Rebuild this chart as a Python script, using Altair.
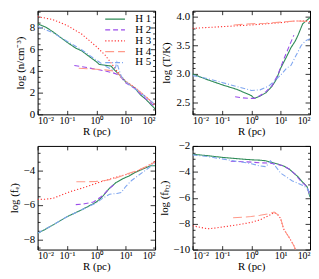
import json
import altair as alt
import pandas as pd

SERIES = ["H 1", "H 2", "H 3", "H 4", "H 5"]
COLORS = ["#2e8b57", "#9b4dea", "#ff3030", "#ff9a8a", "#7fa6f0"]
DASHES = [[1, 0], [5, 3], [1.2, 2], [9, 4], [5, 2, 1, 2]]

X_TICKS = [-2, -1, 0, 1, 2]
X_LABELS = ["10⁻²", "10⁻¹", "10⁰", "10¹", "10²"]

# ---- Panel 1: log density ----
N_R = {
    "H 1": [-2, -1.7, -1.5, -1.2, -1, -0.7, -0.5, -0.3, 0, 0.1, 0.5, 0.65, 0.8, 1, 1.3, 1.5, 1.7, 2],
    "H 2": [-0.75, -0.5, 0, 0.3, 0.6, 0.7, 0.85, 1, 1.3, 1.5, 1.7, 2],
    "H 3": [-2, -1.5, -1, -0.5, 0, 0.3, 0.5, 0.7, 0.85, 1, 1.3, 1.5, 1.7, 2],
    "H 4": [-0.6, -0.3, 0, 0.3, 0.6, 0.75, 0.9, 1, 1.3, 1.5, 1.7, 2],
    "H 5": [-2, -1.5, -1, -0.5, 0, 0.3, 0.55, 0.65, 0.7, 0.75, 0.85, 1, 1.5, 2],
}
N_V = {
    "H 1": [8.35, 8.0, 7.65, 7.05, 6.65, 6.1, 5.85, 5.45, 4.85, 4.6, 4.45, 4.0, 3.6, 3.0, 2.45, 1.8, 1.35, 0.5],
    "H 2": [4.5, 4.4, 4.15, 4.0, 3.8, 3.7, 3.4, 2.9, 2.4, 1.9, 1.4, 0.7],
    "H 3": [9.0, 8.75, 8.2, 7.4, 6.25, 5.45, 4.75, 4.0, 3.5, 3.05, 2.5, 2.05, 1.6, 0.85],
    "H 4": [4.25, 4.2, 4.15, 4.1, 4.0, 3.75, 3.3, 3.0, 2.5, 2.05, 1.6, 0.8],
    "H 5": [8.1, 7.55, 6.75, 5.95, 5.0, 4.45, 4.1, 4.3, 4.8, 4.3, 3.5, 3.0, 2.0, 0.9],
}

# ---- Panel 2: log temperature ----
T_R = {
    "H 1": [-2, -1.5, -1, -0.5, 0, 0.1, 0.3, 0.5, 0.7, 0.85, 1, 1.2, 1.35, 1.5, 1.6, 1.75, 2],
    "H 2": [-0.55, -0.3, 0, 0.1, 0.3, 0.5, 0.7, 0.9, 1.1, 1.3, 1.45],
    "H 3": [-2, -1, 0, 0.5, 1, 1.5, 1.8, 2],
    "H 4": [-0.6, 0, 0.5, 1, 1.5, 2],
    "H 5": [-2, -1.5, -1, -0.5, 0, 0.3, 0.6, 0.8, 1, 1.2, 1.35, 1.5, 1.7, 1.85, 2],
}
T_V = {
    "H 1": [3.0, 2.9, 2.81, 2.73, 2.62, 2.57, 2.61, 2.67, 2.78, 2.9, 3.1, 3.3, 3.46, 3.58, 3.69, 3.88, 3.99],
    "H 2": [2.6, 2.58, 2.57, 2.57, 2.62, 2.69, 2.79, 2.98, 3.25, 3.5, 3.68],
    "H 3": [3.8, 3.83, 3.86, 3.88, 3.9, 3.93, 3.93, 3.92],
    "H 4": [3.86, 3.88, 3.89, 3.91, 3.93, 3.92],
    "H 5": [2.97, 2.92, 2.85, 2.78, 2.71, 2.72, 2.79, 2.88, 2.98, 3.1, 3.15, 3.3, 3.5, 3.58, 3.62],
}

# ---- Panel 3: log electron fraction ----
E_R = {
    "H 1": [-2, -1.5, -1, -0.5, 0, 0.2, 0.45, 0.67, 0.9, 1.1, 1.3, 1.5, 1.7, 1.85, 2],
    "H 2": [-0.7, -0.4, -0.1, 0.2, 0.45, 0.67],
    "H 3": [-2, -1.7, -1.47, -1.2, -0.9, -0.5, -0.2, 0.2, 0.5, 0.8, 1.1, 1.4, 1.7, 2],
    "H 4": [-0.68, -0.3, 0, 0.3, 0.6, 1, 1.5, 2],
    "H 5": [-2, -1.5, -1, -0.5, 0, 0.2, 0.45, 0.7, 0.85, 1, 1.2, 1.4, 1.6, 1.8, 2],
}
E_V = {
    "H 1": [-7.67, -7.2, -6.7, -6.3, -5.85, -5.55, -5.05, -4.72, -4.5, -4.35, -4.15, -4.0, -3.85, -3.75, -3.75],
    "H 2": [-6.0, -5.95, -5.85, -5.5, -5.05, -4.75],
    "H 3": [-5.7, -5.68, -5.63, -5.45, -5.25, -5.05, -4.88, -4.65, -4.5, -4.35, -4.22, -4.05, -3.8, -3.5],
    "H 4": [-4.67, -4.67, -4.65, -4.6, -4.5, -4.25, -3.95, -3.55],
    "H 5": [-7.65, -7.2, -6.7, -6.3, -5.9, -5.65, -5.4, -5.35, -5.3, -4.95, -4.6, -4.35, -4.1, -3.85, -3.6],
}

# ---- Panel 4: log H2 fraction ----
H_R = {
    "H 1": [-2, -1.5, -1, -0.5, 0, 0.3, 0.5, 0.7, 0.9, 1.1, 1.3, 1.45, 1.6, 1.75, 1.9, 2],
    "H 2": [-0.7, -0.3, 0, 0.3, 0.6, 0.9, 1.1, 1.3, 1.5, 1.7, 1.9, 2],
    "H 3": [-2, -1.7, -1.5, -1.2, -0.9, -0.5, 0, 0.3, 0.56, 0.78, 0.9, 1, 1.1, 1.3, 1.46, 1.55],
    "H 4": [-0.62, -0.3, 0, 0.3, 0.56, 0.78, 0.9, 1, 1.1, 1.3, 1.46, 1.55],
    "H 5": [-2, -1.5, -1, -0.5, 0, 0.3, 0.5, 0.65, 0.8, 1, 1.2, 1.4, 1.6, 1.8, 1.95, 2],
}
H_V = {
    "H 1": [-2.64, -2.75, -2.88, -2.98, -3.07, -3.1, -3.15, -3.27, -3.4, -3.55, -3.8, -4.1, -4.4, -4.8, -5.15, -5.95],
    "H 2": [-3.18, -3.22, -3.25, -3.3, -3.32, -3.42, -3.55, -3.8, -4.2, -4.75, -5.15, -5.9],
    "H 3": [-8.16, -8.3, -8.4, -8.33, -8.23, -8.1, -7.9, -7.7, -7.42, -7.15, -7.3, -7.6, -8.4, -9.1, -9.75, -10.3],
    "H 4": [-7.55, -7.5, -7.45, -7.35, -7.25, -7.1, -7.3, -7.6, -8.4, -9.1, -9.75, -10.3],
    "H 5": [-2.69, -2.82, -3.0, -3.18, -3.37, -3.55, -3.6, -3.15, -3.5, -4.1, -4.4, -4.7, -4.9, -5.1, -5.4, -5.85],
}

# ---- axis tick lists ----
P1_MAJOR = [0, 2, 4, 6, 8]
P1_MINOR = [0.5, 1, 1.5, 2.5, 3, 3.5, 4.5, 5, 5.5, 6.5, 7, 7.5, 8.5, 9, 9.5]
P2_MAJOR = [2.5, 3, 3.5, 4]
P2_MINOR = [2.3, 2.4, 2.6, 2.7, 2.8, 2.9, 3.1, 3.2, 3.3, 3.4, 3.6, 3.7, 3.8, 3.9, 4.1]
P3_MAJOR = [-8, -6, -4]
P3_MINOR = [-8.5, -7.5, -7, -6.5, -5.5, -5, -4.5, -3.5, -3, -2.5]
P4_MAJOR = [-10, -8, -6, -4, -2]
P4_MINOR = [-9.5, -9, -8.5, -7.5, -7, -6.5, -5.5, -5, -4.5, -3.5, -3, -2.5]

W, H = 119, 105
FONT = "Liberation Serif"
FS = 11
LABEL_EXPR = json.dumps(X_LABELS) + "[datum.value + 2]"


def frame(rs, vs):
    rows = []
    for s in SERIES:
        for r, v in zip(rs[s], vs[s]):
            rows.append({"r": r, "v": v, "s": s})
    return pd.DataFrame(rows)


def tick_axis(**kw):
    return alt.Axis(labels=False, domain=False, grid=False, title=None,
                    tickColor="black", tickWidth=0.8, **kw)


def panel(df, ydom, major, minor, ytitle, extent, legend=False):
    xs = alt.Scale(domain=[-2, 2], nice=False, zero=False)
    ys = alt.Scale(domain=ydom, nice=False, zero=False)
    if legend:
        leg = alt.Legend(title=None, orient="top-right", offset=3, padding=0,
                         symbolType="M-4.5,0H0.5", symbolSize=64,
                         symbolStrokeWidth=1.2, labelOffset=7, rowPadding=-1.5,
                         labelFont=FONT, labelFontSize=FS, labelColor="black")
    else:
        leg = None
    lines = alt.Chart(df).mark_line(strokeWidth=1.1, clip=True).encode(
        x=alt.X("r:Q", scale=xs, axis=alt.Axis(
            values=X_TICKS, labelExpr=LABEL_EXPR, title="R (pc)", ticks=False,
            domain=False, grid=False, labelPadding=1, titlePadding=0,
            labelFontSize=10)),
        y=alt.Y("v:Q", scale=ys, axis=alt.Axis(
            values=major, title=ytitle, ticks=False, domain=False, grid=False,
            labelPadding=3, titlePadding=2, minExtent=extent, maxExtent=extent)),
        color=alt.Color("s:N", scale=alt.Scale(domain=SERIES, range=COLORS), legend=leg),
        strokeDash=alt.StrokeDash("s:N", scale=alt.Scale(domain=SERIES, range=DASHES), legend=leg),
    )

    def tl(xaxis, yaxis):
        return alt.Chart(df).mark_point(opacity=0, clip=True).encode(
            x=alt.X("r:Q", scale=xs, axis=xaxis),
            y=alt.Y("v:Q", scale=ys, axis=yaxis),
        )

    layers = [
        lines,
        tl(tick_axis(orient="top", offset=-H, values=X_TICKS, tickSize=4), None),
        tl(tick_axis(orient="bottom", offset=-H, values=X_TICKS, tickSize=4), None),
        tl(None, tick_axis(orient="right", offset=-W, values=major, tickSize=5)),
        tl(None, tick_axis(orient="left", offset=-W, values=major, tickSize=5)),
        tl(None, tick_axis(orient="right", offset=-W, values=minor, tickSize=2.5)),
        tl(None, tick_axis(orient="left", offset=-W, values=minor, tickSize=2.5)),
    ]
    return alt.layer(*layers).resolve_axis(x="independent", y="independent").properties(width=W, height=H)


p1 = panel(frame(N_R, N_V), [0, 9.55], P1_MAJOR, P1_MINOR, "log (n/cm⁻³)", 10.5, legend=True)
p2 = panel(frame(T_R, T_V), [2.29, 4.11], P2_MAJOR, P2_MINOR, "log (T/K)", 19.5)
p3 = panel(frame(E_R, E_V), [-8.6, -2.6], P3_MAJOR, P3_MINOR, "log (fₑ)", 16)
p4 = panel(frame(H_R, H_V), [-10, -2], P4_MAJOR, P4_MINOR, "log (fₕ₂)", 21)

chart = alt.concat(p1, p2, p3, p4, columns=2, spacing={"column": 2, "row": 2}).resolve_legend(
    color="independent", strokeDash="independent"
).properties(padding=0).configure(font=FONT).configure_axis(
    labelFont=FONT, titleFont=FONT, labelFontSize=FS, titleFontSize=FS,
    titleFontWeight="normal", labelColor="black", titleColor="black",
).configure_view(stroke="black", strokeWidth=1)

chart.save("out.html", embed_options={"renderer": "svg", "actions": False})
